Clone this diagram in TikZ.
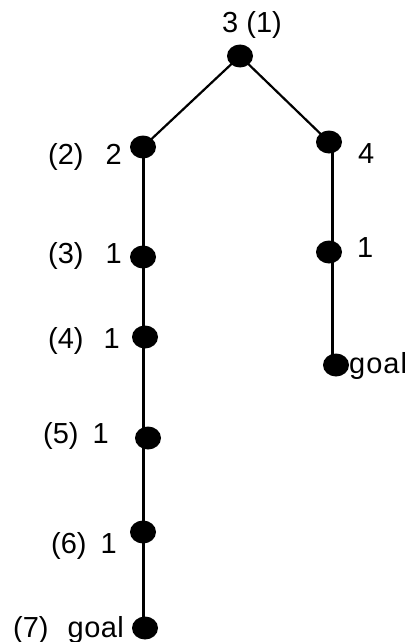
\documentclass[tikz,border=0pt]{standalone}
\usepackage{fontspec}
\setmainfont{Liberation Sans}
\usetikzlibrary{shapes.geometric,backgrounds}
\begin{document}
\begin{tikzpicture}[x=1pt,y=-1pt,
  dot/.style={ellipse,fill=black,draw=none,minimum width=26pt,minimum height=23pt,inner sep=0pt},
  lbl/.style={anchor=base west,inner sep=0pt,font=\fontsize{29}{31}\selectfont},
  edge/.style={line width=3pt},
  thin edge/.style={line width=2.2pt}]
\useasboundingbox (0,0) rectangle (417,642);
% nodes
\node[dot] (r)  at (240,56) {};
\node[dot] (a2) at (143,147) {};
\node[dot] (a3) at (143,257) {};
\node[dot] (a4) at (145,337) {};
\node[dot] (a5) at (148,438) {};
\node[dot] (a6) at (143,532) {};
\node[dot] (a7) at (145,628) {};
\node[dot] (b1) at (329,142) {};
\node[dot] (b2) at (329,252) {};
\node[dot] (b3) at (336,365) {};
\coordinate (rt) at (332,142);
% connectors
\begin{scope}[on background layer]
\draw[thin edge] (r.center) -- (a2.center);
\draw[thin edge] (r.center) -- (b1.center);
\draw[edge] (a2.center) -- (a7.center -| a2.center);
\draw[edge] (b1.center -| rt) -- (b3.center -| rt);
\end{scope}
% labels
\node[lbl] (t1) at (222,33) {3 (1)};
\node[lbl] (t2) at (48,164) {(2)\hspace{22pt}2};
\node[lbl] (t3) at (48,263) {(3)\hspace{22pt}1};
\node[lbl] (t4) at (48,348) {(4)\hspace{20pt}1};
\node[lbl] (t5) at (43,443) {(5)\hspace{14pt}1};
\node[lbl] (t6) at (51,553) {(6)\hspace{14pt}1};
\node[lbl] (t7) at (13,637) {(7)\hspace{19pt}g\kern0.5pt o\kern0.5pt a\kern0.5pt l};
\node[lbl] (u1) at (358,163) {4};
\node[lbl] (u2) at (357,257) {1};
\node[lbl] (u3) at (349,373) {g\kern1pt o\kern1pt a\kern1pt l};
\end{tikzpicture}
\end{document}
